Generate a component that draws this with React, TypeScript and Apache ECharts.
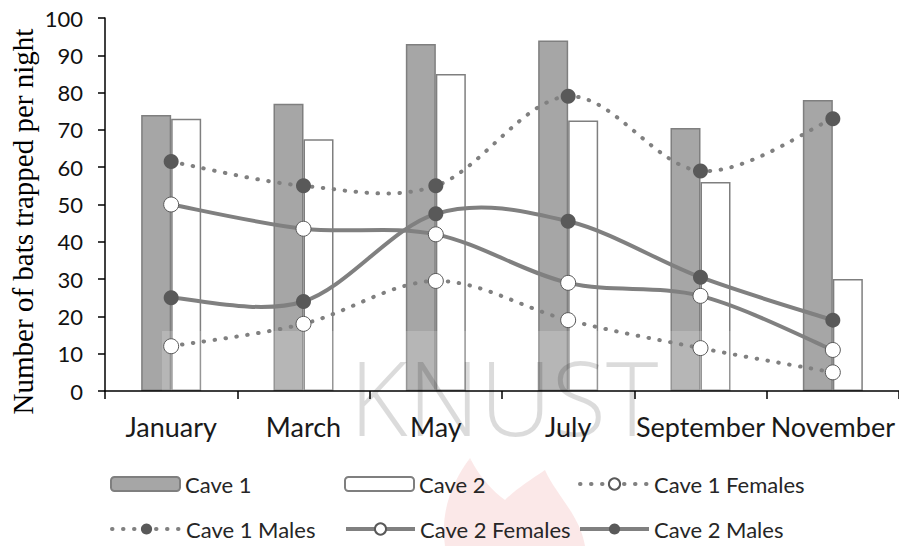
import React, { useEffect, useRef } from "react";
import * as echarts from "echarts";

const months = ["January", "March", "May", "July", "September", "November"];
const cave1 = [74, 77, 93, 94, 70.5, 78];
const cave2 = [73, 67.5, 85, 72.5, 56, 30];
const cave1Females = [12, 18, 29.5, 19, 11.5, 5];
const cave1Males = [61.5, 55, 55, 79, 59, 73];
const cave2Females = [50, 43.5, 42, 29, 25.5, 11];
const cave2Males = [25, 24, 47.5, 45.5, 30.5, 19];

const LABEL_FONT = "Lato, 'Noto Sans', sans-serif";
const LINE_GRAY = "#808080";
const DARK = "#595959";
const DOTTED: number[] = [0.5, 10.5];

let flameRegistered = false;
function registerFlame() {
  if (flameRegistered) return;
  const d =
    "M445 546 C440 512 452 482 470 458 C480 478 494 492 505 500 C515 490 530 480 545 470 C556 495 580 515 585 546 Z";
  echarts.graphic.registerShape("flame", echarts.graphic.extendPath(d as any, {}) as any);
  flameRegistered = true;
}

// Excel-like smoothed curve through the points of a series (Catmull-Rom style Bezier)
function smoothCurve(values: number[], dashed: boolean, z: number) {
  return {
    type: "custom",
    name: "_curve",
    coordinateSystem: "cartesian2d",
    silent: true,
    z,
    data: [[0, values[0]]],
    encode: { x: 0, y: 1 },
    renderItem: (_params: any, api: any) => {
      const pts = values.map((v, i) => api.coord([i, v]));
      const n = pts.length;
      const k = 1 / 6;
      let d = `M${pts[0][0]} ${pts[0][1]}`;
      for (let i = 0; i < n - 1; i++) {
        const p0 = pts[Math.max(i - 1, 0)];
        const p1 = pts[i];
        const p2 = pts[i + 1];
        const p3 = pts[Math.min(i + 2, n - 1)];
        const c1x = p1[0] + (p2[0] - p0[0]) * k;
        const c1y = p1[1] + (p2[1] - p0[1]) * k;
        const c2x = p2[0] - (p3[0] - p1[0]) * k;
        const c2y = p2[1] - (p3[1] - p1[1]) * k;
        d += ` C${c1x} ${c1y} ${c2x} ${c2y} ${p2[0]} ${p2[1]}`;
      }
      const style: any = {
        fill: "none",
        stroke: LINE_GRAY,
        lineWidth: 4,
        lineCap: "round",
        lineJoin: "round",
      };
      if (dashed) style.lineDash = DOTTED;
      return { type: "path", shape: { pathData: d }, style };
    },
  };
}

export default function App() {
  const ref = useRef<HTMLDivElement>(null);

  useEffect(() => {
    if (!ref.current) return;
    registerFlame();
    const chart = echarts.init(ref.current, undefined, { renderer: "svg" });

    const markerSeries = (name: string, data: number[], fill: string, border: number) => ({
      type: "line",
      name,
      data,
      symbol: "circle",
      symbolSize: 15,
      z: 5,
      lineStyle: { opacity: 0, width: 0 },
      itemStyle: { color: fill, borderColor: DARK, borderWidth: border },
    });

    const solidLegendLine = { color: LINE_GRAY, width: 4, opacity: 1, type: "solid" };
    const dottedLegendLine = { color: LINE_GRAY, width: 4, opacity: 1, type: DOTTED, cap: "round" };

    const legendDefs: any[] = [
      { name: "Cave 1", left: 110, top: 486 },
      { name: "Cave 2", left: 344, top: 486 },
      { name: "Cave 1 Females", left: 578, top: 486, line: dottedLegendLine },
      { name: "Cave 1 Males", left: 110, top: 531, line: dottedLegendLine },
      { name: "Cave 2 Females", left: 344, top: 531, line: solidLegendLine },
      { name: "Cave 2 Males", left: 578, top: 531, line: solidLegendLine },
    ];

    const option: any = {
      animation: false,
      backgroundColor: "#ffffff",
      grid: { left: 105, top: 18, width: 798, height: 373, containLabel: false },
      legend: legendDefs.map((l) => {
        const lg: any = {
          data: [l.name],
          left: l.left,
          top: l.top - 13,
          padding: 0,
          itemWidth: 69,
          itemHeight: 14,
          selectedMode: false,
          textStyle: { fontFamily: LABEL_FONT, fontSize: 22, color: "#262626" },
        };
        if (l.line) lg.lineStyle = l.line;
        return lg;
      }),
      xAxis: {
        type: "category",
        data: months,
        z: 10,
        axisLine: { lineStyle: { color: "#000", width: 1.5 } },
        axisTick: { show: true, length: 8, lineStyle: { color: "#000", width: 1.5 } },
        axisLabel: {
          fontFamily: LABEL_FONT,
          fontSize: 27,
          color: "#1a1a1a",
          margin: 22,
          interval: 0,
        },
        splitLine: { show: false },
      },
      yAxis: {
        type: "value",
        min: 0,
        max: 100,
        interval: 10,
        z: 10,
        axisLine: { show: true, lineStyle: { color: "#000", width: 1.5 } },
        axisTick: { show: true, length: 7, lineStyle: { color: "#000", width: 1.5 } },
        axisLabel: {
          fontFamily: LABEL_FONT,
          fontSize: 22,
          color: "#111",
          margin: 22,
        },
        splitLine: { show: false },
      },
      graphic: [
        {
          type: "text",
          x: 23,
          y: 221.5,
          rotation: Math.PI / 2,
          z: 20,
          style: {
            text: "Number of bats trapped per night",
            font: "29px 'Liberation Serif', 'Times New Roman', serif",
            fill: "#000",
            textAlign: "center",
            textVerticalAlign: "middle",
          },
        },
        {
          type: "flame",
          x: 0,
          y: 0,
          z: 1,
          style: { fill: "rgba(225, 80, 80, 0.13)" },
        },
        {
          type: "rect",
          z: 3,
          shape: { x: 162, y: 331, width: 583, height: 130 },
          style: { fill: "rgba(255,255,255,0.18)" },
        },
        {
          type: "text",
          x: 504,
          y: 396,
          z: 3,
          scaleX: 0.97,
          style: {
            text: "KNUST",
            font: "300 103px 'Open Sans', 'Liberation Sans', sans-serif",
            fill: "rgba(0,0,0,0.14)",
            textAlign: "center",
            textVerticalAlign: "middle",
          },
        },
      ],
      series: [
        {
          name: "Cave 1",
          type: "bar",
          data: cave1,
          barWidth: 30,
          barGap: "0%",
          itemStyle: { color: "#a6a6a6", borderColor: "#7f7f7f", borderWidth: 1.5 },
        },
        {
          name: "Cave 2",
          type: "bar",
          data: cave2,
          barWidth: 30,
          barGap: "0%",
          itemStyle: { color: "#ffffff", borderColor: "#7f7f7f", borderWidth: 1.5 },
        },
        smoothCurve(cave1Females, true, 4),
        smoothCurve(cave1Males, true, 4),
        smoothCurve(cave2Females, false, 4),
        smoothCurve(cave2Males, false, 4),
        markerSeries("Cave 1 Females", cave1Females, "#ffffff", 1),
        markerSeries("Cave 1 Males", cave1Males, DARK, 0),
        markerSeries("Cave 2 Females", cave2Females, "#ffffff", 1),
        markerSeries("Cave 2 Males", cave2Males, DARK, 0),
      ],
    };

    chart.setOption(option);
    return () => chart.dispose();
  }, []);

  return (
    <div
      ref={ref}
      style={{ width: 899, height: 546, position: "absolute", left: 0, top: 0 }}
    />
  );
}
